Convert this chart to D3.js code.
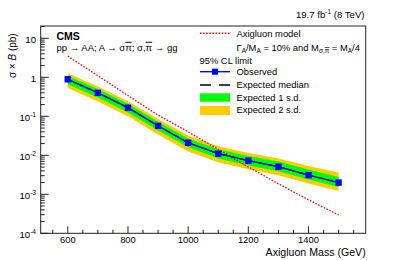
<!DOCTYPE html>
<html>
<head>
<meta charset="utf-8">
<script src="https://cdn.jsdelivr.net/npm/d3@7"></script>
<style>
  body { margin: 0; background: #fff; }
  svg text { font-family: "Liberation Sans", Arial, Helvetica, sans-serif; fill: #000; }
  .ov { text-decoration: overline; }
</style>
</head>
<body>
<svg id="chart" width="407" height="260"></svg>
<script>
// ---- data ----
const masses = [600, 700, 800, 900, 1000, 1100, 1200, 1300, 1400, 1500];
const observed = [0.89, 0.40, 0.166, 0.057, 0.021, 0.011, 0.0073, 0.0051, 0.0031, 0.0020];
const expectedMedian = [0.89, 0.40, 0.166, 0.057, 0.021, 0.011, 0.0073, 0.0051, 0.0031, 0.0020];
const expMinus2 = [0.53, 0.24, 0.10, 0.034, 0.0125, 0.0066, 0.0044, 0.0031, 0.0019, 0.00122];
const expMinus1 = [0.66, 0.30, 0.125, 0.043, 0.016, 0.0083, 0.0055, 0.0039, 0.0024, 0.00155];
const expPlus1 = [1.10, 0.50, 0.21, 0.073, 0.027, 0.0143, 0.0096, 0.0069, 0.0043, 0.00277];
const expPlus2 = [1.27, 0.58, 0.245, 0.085, 0.032, 0.017, 0.0115, 0.0083, 0.0053, 0.0036];
const modelXsec = [3.5, 1.1, 0.34, 0.107, 0.040, 0.0141, 0.0050, 0.00186, 0.00072, 0.000295];
const xMajorTicks = [600, 800, 1000, 1200, 1400];
const yMajorTicks = [1e-4, 1e-3, 1e-2, 1e-1, 1, 10];
const yTickLabels = [["10", "-4"], ["10", "-3"], ["10", "-2"], ["10", "-1"], ["1", ""], ["10", ""]];

// ---- layout ----
const L = 40.7, R = 365.7, T = 26, B = 233.3;
const svg = d3.select("#chart");
const x = d3.scaleLinear().domain([510, 1590]).range([L, R]);
const y = d3.scaleLog().domain([1e-4, 20.7]).range([B, T]);

const rows = masses.map((m, i) => ({
  m, obs: observed[i], exp: expectedMedian[i],
  m2: expMinus2[i], m1: expMinus1[i], p1: expPlus1[i], p2: expPlus2[i], mod: modelXsec[i]
}));

const g = svg.append("g");

// bands
g.append("path").datum(rows)
  .attr("d", d3.area().x(d => x(d.m)).y0(d => y(d.m2)).y1(d => y(d.p2)))
  .attr("fill", "#ffcc00");
g.append("path").datum(rows)
  .attr("d", d3.area().x(d => x(d.m)).y0(d => y(d.m1)).y1(d => y(d.p1)))
  .attr("fill", "#00ff00");
// expected median
g.append("path").datum(rows)
  .attr("d", d3.line().x(d => x(d.m)).y(d => y(d.exp)))
  .attr("fill", "none").attr("stroke", "#000").attr("stroke-width", 1.3)
  .attr("stroke-dasharray", "6,4");
// model
g.append("path").datum(rows)
  .attr("d", d3.line().x(d => x(d.m)).y(d => y(d.mod)))
  .attr("fill", "none").attr("stroke", "#ff0000").attr("stroke-width", 1.4)
  .attr("stroke-dasharray", "1.5,1.6");
// observed
g.append("path").datum(rows)
  .attr("d", d3.line().x(d => x(d.m)).y(d => y(d.obs)))
  .attr("fill", "none").attr("stroke", "#0000ff").attr("stroke-width", 1.4);
g.selectAll("rect.obs").data(rows).enter().append("rect")
  .attr("class", "obs")
  .attr("x", d => x(d.m) - 3.2).attr("y", d => y(d.obs) - 3.2)
  .attr("width", 6.4).attr("height", 6.4).attr("fill", "#0000ff");

// frame
svg.append("rect").attr("x", L).attr("y", T).attr("width", R - L).attr("height", B - T)
  .attr("fill", "none").attr("stroke", "#222").attr("stroke-width", 1);

// x axis ticks (inside)
const xMinor = d3.range(550, 1590, 50);
svg.selectAll("line.xt").data(xMinor).enter().append("line")
  .attr("x1", d => x(d)).attr("x2", d => x(d))
  .attr("y1", B).attr("y2", d => B - (xMajorTicks.includes(d) ? 7 : 3.5))
  .attr("stroke", "#222").attr("stroke-width", 1);
svg.selectAll("text.xl").data(xMajorTicks).enter().append("text")
  .attr("x", d => x(d)).attr("y", 243.2).attr("text-anchor", "middle")
  .attr("font-size", "9.4px").text(d => d);

// y axis ticks (inside)
const yMinor = [];
for (let e = -4; e <= 1; e++) for (let k = 1; k <= 9; k++) {
  const v = k * Math.pow(10, e);
  if (v <= 20.7) yMinor.push(v);
}
svg.selectAll("line.yt").data(yMinor).enter().append("line")
  .attr("x1", L).attr("x2", d => L + (Math.abs(Math.log10(d) - Math.round(Math.log10(d))) < 1e-9 ? 8 : 4))
  .attr("y1", d => y(d)).attr("y2", d => y(d))
  .attr("stroke", "#222").attr("stroke-width", 1);
const yl = svg.selectAll("text.yl").data(yMajorTicks).enter().append("text")
  .attr("x", 36).attr("y", d => y(d) + 4.6).attr("text-anchor", "end")
  .attr("font-size", "9.6px");
yl.append("tspan").text((d, i) => yTickLabels[i][0]);
yl.append("tspan").attr("dy", -4).attr("font-size", "6.6px").text((d, i) => yTickLabels[i][1]);

// axis titles
svg.append("text").attr("x", R).attr("y", 256).attr("text-anchor", "end")
  .attr("font-size", "10.6px").text("Axigluon Mass (GeV)");
const yt = svg.append("text").attr("transform", "translate(15.5,33.3) rotate(-90)")
  .attr("text-anchor", "end").attr("font-size", "10px");
yt.append("tspan").text("σ × ");
yt.append("tspan").attr("font-style", "italic").text("B");
yt.append("tspan").text(" (pb)");

// header texts
svg.append("text").attr("x", 364.5).attr("y", 17.5).attr("text-anchor", "end")
  .attr("font-size", "9.6px")
  .call(t => {
    t.append("tspan").text("19.7 fb");
    t.append("tspan").attr("dy", -3.5).attr("font-size", "6.5px").text("-1");
    t.append("tspan").attr("dy", 3.5).text(" (8 TeV)");
  });
svg.append("text").attr("x", 56.5).attr("y", 39.6).attr("font-size", "10.5px")
  .attr("font-weight", "bold").text("CMS");
svg.append("text").attr("x", 56.5).attr("y", 50.8).attr("font-size", "9.5px")
  .call(t => {
    t.append("tspan").text("pp → AA; A → σ");
    t.append("tspan").attr("class", "ov").text("π");
    t.append("tspan").text("; σ,");
    t.append("tspan").attr("class", "ov").text("π");
    t.append("tspan").text(" → gg");
  });

// legend
const lx0 = 200, lx1 = 230, tx = 236.5;
svg.append("line").attr("x1", lx0).attr("x2", lx1).attr("y1", 33.3).attr("y2", 33.3)
  .attr("stroke", "#ff0000").attr("stroke-width", 1.4).attr("stroke-dasharray", "1.5,1.6");
svg.append("text").attr("x", tx).attr("y", 36.7).attr("font-size", "9.4px").text("Axigluon model");
svg.append("text").attr("x", tx).attr("y", 50.5).attr("font-size", "9.4px")
  .call(t => {
    t.append("tspan").text("Γ");
    t.append("tspan").attr("dy", 2.5).attr("font-size", "6.5px").text("A");
    t.append("tspan").attr("dy", -2.5).text("/M");
    t.append("tspan").attr("dy", 2.5).attr("font-size", "6.5px").text("A");
    t.append("tspan").attr("dy", -2.5).text(" = 10% and M");
    t.append("tspan").attr("dy", 2.5).attr("font-size", "6.5px").text("σ,");
    t.append("tspan").attr("font-size", "6.5px").attr("class", "ov").text("π");
    t.append("tspan").attr("dy", -2.5).text(" = M");
    t.append("tspan").attr("dy", 2.5).attr("font-size", "6.5px").text("A");
    t.append("tspan").attr("dy", -2.5).text("/4");
  });
svg.append("text").attr("x", 199.5).attr("y", 64.4).attr("font-size", "9.4px").text("95% CL limit");
svg.append("line").attr("x1", lx0).attr("x2", lx1).attr("y1", 71.7).attr("y2", 71.7)
  .attr("stroke", "#0000ff").attr("stroke-width", 1.4);
svg.append("rect").attr("x", 215 - 3).attr("y", 71.7 - 3).attr("width", 6).attr("height", 6).attr("fill", "#0000ff");
svg.append("text").attr("x", tx).attr("y", 75.1).attr("font-size", "9.4px").text("Observed");
svg.append("line").attr("x1", lx0).attr("x2", lx1).attr("y1", 85).attr("y2", 85)
  .attr("stroke", "#000").attr("stroke-width", 1.3).attr("stroke-dasharray", "11,8");
svg.append("text").attr("x", tx).attr("y", 88.4).attr("font-size", "9.4px").text("Expected median");
svg.append("rect").attr("x", lx0).attr("y", 93.3).attr("width", lx1 - lx0).attr("height", 8.4).attr("fill", "#00ff00");
svg.append("text").attr("x", tx).attr("y", 101.1).attr("font-size", "9.4px").text("Expected 1 s.d.");
svg.append("rect").attr("x", lx0).attr("y", 106).attr("width", lx1 - lx0).attr("height", 9).attr("fill", "#ffcc00");
svg.append("text").attr("x", tx).attr("y", 113.4).attr("font-size", "9.4px").text("Expected 2 s.d.");
</script>
</body>
</html>
